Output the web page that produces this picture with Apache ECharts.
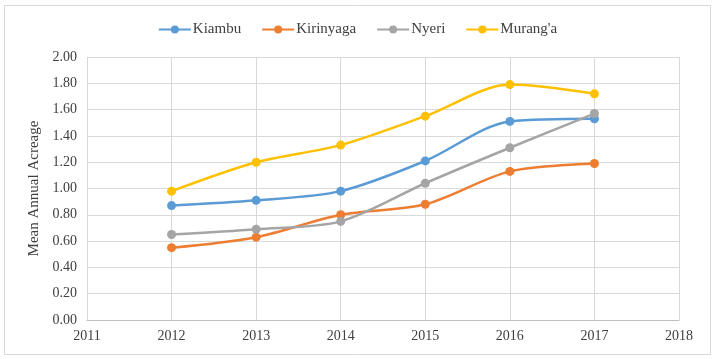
<!DOCTYPE html>
<html>
<head>
<meta charset="utf-8">
<script src="https://cdn.jsdelivr.net/npm/echarts@6/dist/echarts.min.js"></script>
<style>
  html, body { margin: 0; padding: 0; background: #fff; }
  #chart { width: 715px; height: 359px; }
</style>
</head>
<body>
<div id="chart"></div>
<script>
const years = [2012, 2013, 2014, 2015, 2016, 2017];
const kiambu = [0.87, 0.91, 0.98, 1.21, 1.51, 1.53];
const kirinyaga = [0.55, 0.63, 0.80, 0.88, 1.13, 1.19];
const nyeri = [0.65, 0.69, 0.75, 1.04, 1.31, 1.57];
const muranga = [0.98, 1.20, 1.33, 1.55, 1.79, 1.72];

const names = ["Kiambu", "Kirinyaga", "Nyeri", "Murang'a"];
const colors = ["#5B9BD5", "#ED7D31", "#A5A5A5", "#FFC000"];
const font = "'Liberation Serif', 'Times New Roman', serif";

const pairs = (vals) => years.map((y, i) => [y, vals[i]]);

const chart = echarts.init(document.getElementById("chart"));
chart.setOption({
  animation: false,
  color: colors,
  textStyle: { fontFamily: font },
  graphic: [
    {
      type: "rect",
      shape: { x: 4.5, y: 5.5, width: 706, height: 349 },
      style: { fill: "none", stroke: "#d9d9d9", lineWidth: 1 },
      silent: true,
    },
  ],
  legend: {
    top: 17,
    left: "center",
    itemWidth: 32,
    itemHeight: 10,
    itemGap: 20,
    textStyle: { fontFamily: font, fontSize: 15, color: "#404040", padding: [0, 0, 0, -3] },
    data: names,
  },
  grid: { left: 87, right: 36, top: 57, bottom: 39, containLabel: false },
  xAxis: {
    type: "value",
    min: 2011,
    max: 2018,
    interval: 1,
    axisLine: { lineStyle: { color: "#bfbfbf" } },
    axisTick: { show: false },
    axisLabel: {
      color: "#404040",
      fontSize: 14,
      fontFamily: font,
      margin: 9,
      formatter: (v) => String(v),
    },
    splitLine: { show: true, lineStyle: { color: "#d9d9d9" } },
  },
  yAxis: {
    type: "value",
    min: 0,
    max: 2,
    interval: 0.2,
    name: "Mean Annual Acreage",
    nameLocation: "middle",
    nameGap: 45,
    nameTextStyle: { color: "#404040", fontSize: 15, fontFamily: font },
    axisLine: { show: false },
    axisTick: { show: false },
    axisLabel: {
      color: "#404040",
      fontSize: 14,
      fontFamily: font,
      margin: 10,
      formatter: (v) => v.toFixed(2),
    },
    splitLine: { lineStyle: { color: "#d9d9d9" } },
  },
  series: [kiambu, kirinyaga, nyeri, muranga].map((vals, i) => ({
    name: names[i],
    type: "line",
    data: pairs(vals),
    smooth: 0.3,
    symbol: "circle",
    symbolSize: 9,
    lineStyle: { width: 2.5 },
    itemStyle: { color: colors[i] },
  })),
});
</script>
</body>
</html>
